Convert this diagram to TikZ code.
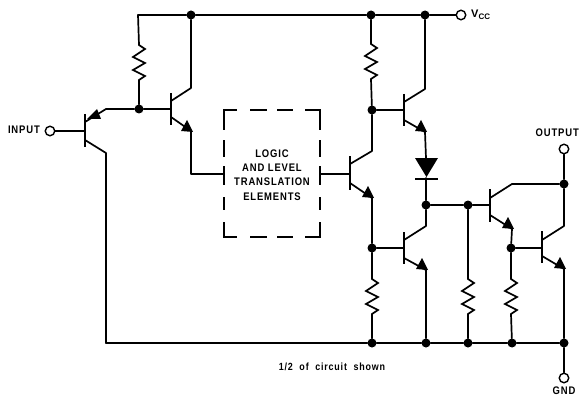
\documentclass[tikz,border=0pt]{standalone}
\usepackage{fontspec}
\setmainfont{Liberation Sans}
\newcommand\lbl[1]{\scalebox{0.86}[1]{\addfontfeatures{LetterSpace=9}\bfseries #1}}
\newcommand\npnarrow[2]{\fill (#1-11,#2-1) -- (#1+1,#2) -- (#1-5,#2-12) -- cycle;}
\newcommand\zigres[2]{\draw[wire,line join=miter] (#1,#2) -- ++(6,4) -- ++(-12,8) -- ++(12,6) -- ++(-12,7) -- ++(12,6) -- ++(-6,4);}
\tikzset{
  wire/.style={line width=1.7pt,line cap=round,line join=round},
  barline/.style={line width=2pt},
  dot/.style={circle,fill=black,inner sep=0pt,minimum size=9pt},
  term/.style={circle,draw=black,fill=white,line width=1.4pt,inner sep=0pt,minimum size=9.5pt},
  txt/.style={font=\fontsize{11}{12}\selectfont,inner sep=0pt,align=center},
  dashseg/.style={line width=2pt,line cap=butt,line join=miter}
}
\begin{document}
\begin{tikzpicture}[x=1pt,y=-1pt]
\useasboundingbox[fill=white] (0,0) rectangle (579,396);
% junctions and terminals
\node[dot] (t1) at (191,15) {};
\node[dot] (t2) at (371,15) {};
\node[dot] (t3) at (425,15) {};
\node[term] (vcc) at (461,15) {};
\coordinate (tl) at (138,15);
\node[dot] (j1) at (139,109) {};
\node[dot] (j2) at (372,110) {};
\node[dot] (j3) at (372,248) {};
\node[dot] (j4) at (426,205) {};
\node[dot] (j5) at (468,205) {};
\node[dot] (j6) at (511,248) {};
\node[dot] (j7) at (564,184) {};
\node[dot] (b1) at (372,343) {};
\node[dot] (b2) at (426,343) {};
\node[dot] (b3) at (468,343) {};
\node[dot] (b4) at (512,343) {};
\node[dot] (b5) at (564,343) {};
\coordinate (bl) at (106,343);
\node[term] (input) at (50,131) {};
\node[term] (output) at (564,149) {};
\node[term] (gnd) at (564,378) {};
% labels
\node[txt,anchor=east] (linput) at (40,130) {\lbl{INPUT}};
\node[txt,anchor=east] (loutput) at (579,133) {\lbl{OUTPUT}};
\node[txt] (lgnd) at (564,391) {\lbl{GND}};
\node[txt,anchor=west] (lvcc) at (471,15) {\fontsize{11}{12}\selectfont\bfseries V\raisebox{-2pt}{\fontsize{8}{9}\selectfont CC}};
\node[txt,font=\fontsize{10.4}{12}\selectfont] (lnote) at (332,367) {\lbl{1/2\ \ of\ \ circuit\ \ shown}};
% logic box
\coordinate (boxl) at (224,174);
\coordinate (boxr) at (320,174);
\foreach \x in {224,320} {
  \draw[dashseg] (\x,140) -- (\x,157);
  \draw[dashseg] (\x,166) -- (\x,185);
  \draw[dashseg] (\x,197) -- (\x,210);
}
\foreach \y in {110,237} {
  \draw[dashseg] (250,\y) -- (267,\y);
  \draw[dashseg] (277,\y) -- (293,\y);
}
\draw[dashseg] (224,130) -- (224,110) -- (237,110);
\draw[dashseg] (305,110) -- (320,110) -- (320,130);
\draw[dashseg] (224,222) -- (224,237) -- (237,237);
\draw[dashseg] (305,237) -- (320,237) -- (320,222);
\node[txt,font=\fontsize{11}{14.2}\selectfont] (ltxt) at (272,175) {\lbl{LOGIC}\\\lbl{AND LEVEL}\\\lbl{TRANSLATION}\\\lbl{ELEMENTS}};
% rails
\draw[wire] (tl) -- (t1) -- (t2) -- (t3) -- (vcc);
\draw[wire] (bl) -- (b1) -- (b2) -- (b3) -- (b4) -- (b5);
% R1 and Q2
\draw[wire] (tl) -- (139,45); \zigres{139}{45} \draw[wire] (139,80) -- (j1);
\draw[barline] (171,93) -- (171,125);
\draw[wire] (j1) -- (171,109);
\draw[wire] (171,101) -- (191,88) -- (t1);
\draw[wire] (171,117) -- (191,131) -- (191,174) -- (boxl);
\npnarrow{192}{132}
% Q1 input
\draw[barline] (85,114) -- (85,147);
\draw[wire] (input) -- (85,131);
\draw[wire] (j1) -- (106,109) -- (85,122);
\fill (87,119) -- (101,119) -- (97,109) -- cycle;
\draw[wire] (85,140) -- (106,153) -- (bl);
% Q3
\draw[wire] (boxr) -- (350,174);
\draw[barline] (350,156) -- (350,190);
\draw[wire] (350,164) -- (372,151) -- (j2);
\draw[wire] (350,183) -- (372,198) -- (j3);
\npnarrow{373}{198}
% R2 and Q4
\draw[wire] (t2) -- (371,44); \zigres{371}{44} \draw[wire] (371,79) -- (j2);
\draw[barline] (404,94) -- (404,126);
\draw[wire] (j2) -- (404,110);
\draw[wire] (404,102) -- (425,89) -- (t3);
\draw[wire] (404,120) -- (425,132) -- (426,158);
\npnarrow{426}{132}
% diode
\fill (415,158) -- (438,158) -- (426.5,177) -- cycle;
\draw[barline] (415,178.5) -- (438,178.5);
\draw[wire] (426,178) -- (j4);
% Q5 and R3
\draw[barline] (404,232) -- (404,264);
\draw[wire] (j3) -- (404,248);
\draw[wire] (404,240) -- (426,226) -- (j4);
\draw[wire] (404,258) -- (426,270) -- (b2);
\npnarrow{427}{270}
\draw[wire] (j3) -- (372,279); \zigres{372}{279} \draw[wire] (372,314) -- (b1);
% Q6, R4
\draw[wire] (j4) -- (j5) -- (490,205);
\draw[wire] (j5) -- (468,279); \zigres{468}{279} \draw[wire] (468,314) -- (b3);
\draw[barline] (490,189) -- (490,222);
\draw[wire] (490,198) -- (512,184) -- (j7);
\draw[wire] (490,215) -- (512,229) -- (j6);
\npnarrow{513}{229}
% R5, Q7
\draw[wire] (j6) -- (511,279); \zigres{511}{279} \draw[wire] (511,314) -- (b4);
\draw[barline] (542,231) -- (542,263);
\draw[wire] (j6) -- (542,248);
\draw[wire] (542,240) -- (564,226) -- (j7) -- (output);
\draw[wire] (542,256) -- (564,269) -- (b5) -- (gnd);
\npnarrow{565}{269}
\end{tikzpicture}
\end{document}
